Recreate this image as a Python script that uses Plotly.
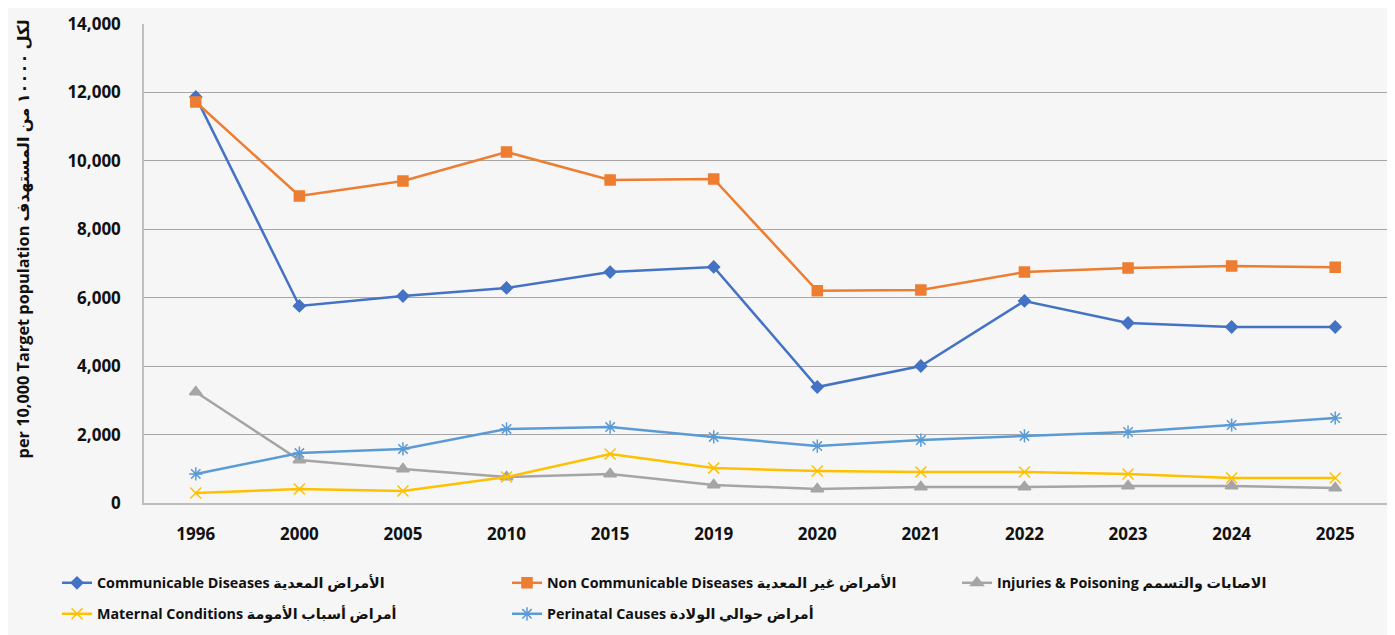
import plotly.graph_objects as go

years = ["1996", "2000", "2005", "2010", "2015", "2019", "2020", "2021", "2022", "2023", "2024", "2025"]
communicable = [11870, 5760, 6050, 6285, 6750, 6900, 3390, 4005, 5905, 5260, 5145, 5145]
non_communicable = [11720, 8975, 9410, 10260, 9440, 9470, 6200, 6225, 6750, 6870, 6930, 6890]
injuries = [3245, 1255, 995, 760, 850, 525, 410, 470, 470, 500, 500, 440]
maternal = [290, 410, 350, 760, 1430, 1020, 935, 905, 905, 850, 730, 730]
perinatal = [850, 1460, 1580, 2165, 2220, 1930, 1665, 1840, 1960, 2075, 2280, 2485]

names = [
    "Communicable Diseases الأمراض المعدية",
    "Non Communicable Diseases الأمراض غير المعدية",
    "Injuries & Poisoning الاصابات والتسمم",
    "Maternal Conditions أمراض أسباب الأمومة",
    "Perinatal Causes أمراض حوالي الولادة",
]
y_title = "per 10,000 Target population لكل ١٠٠٠٠ من المستهدف"
series = [communicable, non_communicable, injuries, maternal, perinatal]
colors = ["#4472C4", "#ED7D31", "#A5A5A5", "#FFC000", "#5B9BD5"]
symbols = ["diamond", "square", "triangle-up", "x-thin-open", "asterisk-open"]
sizes = [9, 10, 11, 11, 11]
legend_ids = ["legend", "legend", "legend", "legend2", "legend2"]

FONT = "Open Sans, DejaVu Sans, sans-serif"

fig = go.Figure()
for n, s, c, sym, sz, lg in zip(names, series, colors, symbols, sizes, legend_ids):
    fig.add_trace(go.Scatter(
        x=years, y=s, name=n, mode="lines+markers", legend=lg,
        line=dict(color=c, width=2.5),
        marker=dict(symbol=sym, size=sz, color=c, line=dict(color=c, width=1.5)),
    ))

fig.add_annotation(
    text=y_title, xref="paper", yref="paper", x=-0.0975, xanchor="center",
    y=0.552, yanchor="middle", textangle=-90, showarrow=False,
    font=dict(family=FONT, size=16.3, color="#111111", weight="bold"),
)

leg_common = dict(
    orientation="h", x=-0.070, xanchor="left", yanchor="middle",
    entrywidth=405, entrywidthmode="pixels",
    font=dict(family=FONT, size=14.3, color="#111111", weight="bold"),
    bgcolor="rgba(0,0,0,0)", itemwidth=30,
)

fig.update_layout(
    width=1395, height=635,
    margin=dict(l=136, r=16, t=16, b=140, autoexpand=False),
    paper_bgcolor="#f6f6f6",
    plot_bgcolor="rgba(0,0,0,0)",
    font=dict(family=FONT, size=15, color="#111111"),
    showlegend=True,
    legend=dict(y=-0.167, **leg_common),
    legend2=dict(y=-0.2317, **leg_common),
    xaxis=dict(
        type="category", range=[-0.5, len(years) - 0.5],
        showgrid=False, showline=True, linecolor="#bfbfbf", linewidth=1.5,
        ticks="", automargin=False,
        tickfont=dict(family=FONT, size=17, color="#111111", weight="bold"),
        ticklabelstandoff=15,
    ),
    yaxis=dict(
        range=[0, 14000], dtick=2000, tickformat=",", showgrid=True, automargin=False,
        gridcolor="#a6a6a6", gridwidth=1, showline=True, linecolor="#bfbfbf", linewidth=1.5,
        zeroline=False, ticks="", ticklabelstandoff=18,
        tickfont=dict(family=FONT, size=17, color="#111111", weight="bold"),
    ),
)

fig.write_html("out.html")
